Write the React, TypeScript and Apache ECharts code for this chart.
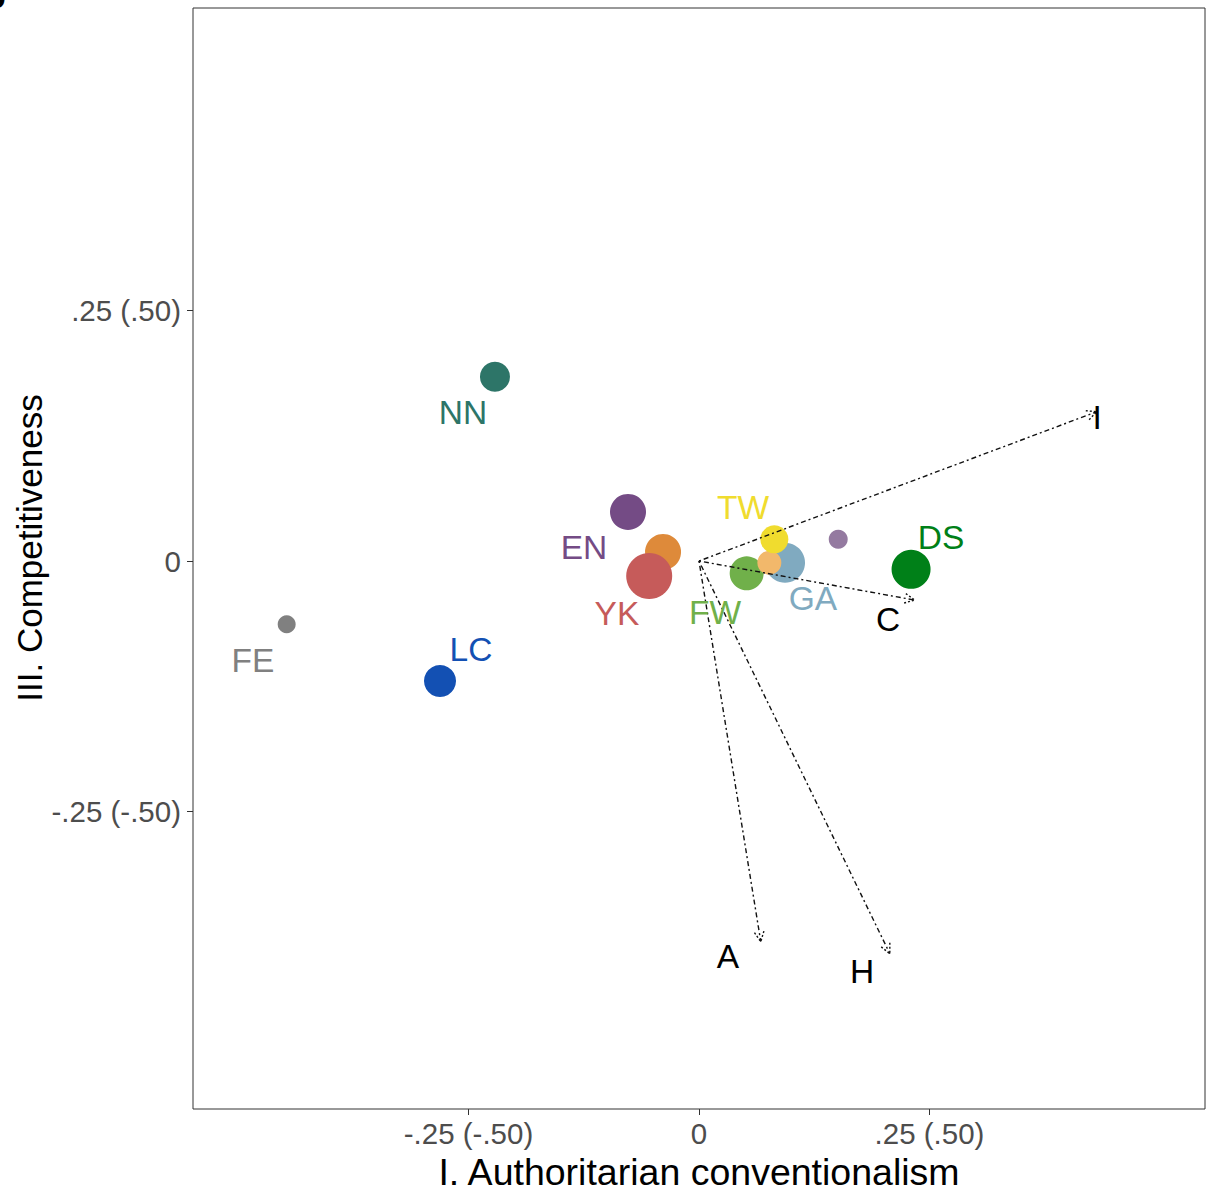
import React, { useEffect, useRef } from "react";
import * as echarts from "echarts";

// ---- data ----
const pointNames = ["NN", "EN", "OR", "YK", "FE", "LC", "GA", "FW", "LO", "TW", "PU", "DS"];
const pointX = [-0.2213, -0.077, -0.039, -0.054, -0.4472, -0.2809, 0.0933, 0.0517, 0.0763, 0.0817, 0.151, 0.23];
const pointY = [0.184, 0.049, 0.009, -0.015, -0.0632, -0.1198, -0.0017, -0.0123, -0.0017, 0.0217, 0.0217, -0.0083];
const pointWeight = [30, 36, 36, 46, 18, 32, 40, 34, 24, 28, 19, 39];
const pointColors = ["#2d7568", "#744b85", "#de8a3a", "#c65b5a", "#808080", "#1350b3", "#80aac0", "#70b04a", "#f2b86b", "#f0dc2e", "#947aa0", "#008018"];

const labelNames = ["NN", "EN", "YK", "FW", "GA", "TW", "DS", "FE", "LC"];
const labelX = [-0.256, -0.1247, -0.089, 0.0174, 0.1236, 0.0477, 0.2625, -0.4837, -0.2473];
const labelY = [0.148, 0.013, -0.052, -0.051, -0.037, 0.053, 0.023, -0.0998, -0.0888];
const labelColors = ["#2d7568", "#744b85", "#c65b5a", "#70b04a", "#80aac0", "#f0dc2e", "#008018", "#808080", "#1350b3"];

const arrowNames = ["I", "C", "A", "H"];
const arrowX = [0.4314, 0.234, 0.067, 0.207];
const arrowY = [0.149, -0.039, -0.38, -0.392];
const arrowLabelX = [0.4317, 0.205, 0.0315, 0.177];
const arrowLabelY = [0.1437, -0.058, -0.395, -0.41];

const xTicks = [-0.25, 0, 0.25];
const xTickLabels = ["-.25 (-.50)", "0", ".25 (.50)"];
const yTicks = [-0.25, 0, 0.25];
const yTickLabels = ["-.25 (-.50)", "0", ".25 (.50)"];

const FONT = "'Liberation Sans', Arial, Helvetica, sans-serif";

function tickFmt(ticks: number[], labels: string[]) {
  return (v: number) => {
    const i = ticks.findIndex((t) => Math.abs(t - v) < 1e-9);
    return i >= 0 ? labels[i] : "";
  };
}

export default function App() {
  const ref = useRef<HTMLDivElement>(null);
  useEffect(() => {
    document.body.style.margin = "0";
    const chart = echarts.init(ref.current!, undefined, { renderer: "svg" });
    const option: any = {
      animation: false,
      backgroundColor: "#ffffff",
      grid: {
        left: 193,
        right: 3,
        top: 8,
        bottom: 87,
        show: true,
        borderColor: "#333333",
        borderWidth: 1,
        backgroundColor: "transparent",
      },
      xAxis: {
        type: "value",
        min: -0.5488,
        max: 0.5488,
        axisLine: { show: false, onZero: false },
        splitLine: { show: false },
        axisTick: { show: true, customValues: xTicks, length: 6, lineStyle: { color: "#333333" } },
        axisLabel: {
          customValues: xTicks,
          formatter: tickFmt(xTicks, xTickLabels),
          color: "#4d4d4d",
          fontSize: 29.5,
          fontFamily: FONT,
          margin: 9,
        },
        name: "I. Authoritarian conventionalism",
        nameLocation: "middle",
        nameGap: 44,
        nameTextStyle: { color: "#000", fontSize: 37.5, fontFamily: FONT },
      },
      yAxis: {
        type: "value",
        min: -0.547,
        max: 0.552,
        axisLine: { show: false, onZero: false },
        splitLine: { show: false },
        axisTick: { show: true, customValues: yTicks, length: 6, lineStyle: { color: "#333333" } },
        axisLabel: {
          customValues: yTicks,
          formatter: tickFmt(yTicks, yTickLabels),
          color: "#4d4d4d",
          fontSize: 29.5,
          fontFamily: FONT,
          margin: 12,
        },
      },
      graphic: [
        {
          type: "text",
          x: 29,
          y: 548,
          rotation: Math.PI / 2,
          style: {
            text: "III. Competitiveness",
            fill: "#000",
            fontSize: 35,
            fontFamily: FONT,
            align: "center",
            verticalAlign: "middle",
          },
        },
        {
          type: "text",
          x: -16,
          y: 13,
          style: {
            text: "b",
            fill: "#000",
            fontSize: 36,
            fontWeight: "bold",
            fontFamily: FONT,
            align: "left",
            verticalAlign: "bottom",
          },
        },
      ],
      series: [
        {
          type: "scatter",
          data: pointNames.map((n, i) => ({
            name: n,
            value: [pointX[i], pointY[i]],
            symbolSize: pointWeight[i],
            itemStyle: { color: pointColors[i], opacity: 1 },
          })),
          z: 2,
        },
        {
          type: "custom",
          data: arrowNames.map((n, i) => [0, 0, arrowX[i], arrowY[i]]),
          encode: { x: [0, 2], y: [1, 3] },
          z: 3,
          silent: true,
          renderItem: (params: any, api: any) => {
            const p0 = api.coord([api.value(0), api.value(1)]);
            const p1 = api.coord([api.value(2), api.value(3)]);
            const ang = Math.atan2(p1[1] - p0[1], p1[0] - p0[0]);
            const L = 11;
            const a = Math.PI / 7;
            const h1 = [p1[0] - L * Math.cos(ang - a), p1[1] - L * Math.sin(ang - a)];
            const h2 = [p1[0] - L * Math.cos(ang + a), p1[1] - L * Math.sin(ang + a)];
            return {
              type: "group",
              children: [
                {
                  type: "line",
                  shape: { x1: p0[0], y1: p0[1], x2: p1[0], y2: p1[1] },
                  style: { stroke: "#111", lineWidth: 1.4, lineDash: [2, 3, 5, 3], fill: null },
                },
                {
                  type: "polyline",
                  shape: { points: [h1, p1, h2] },
                  style: { stroke: "#111", lineWidth: 1.4, lineDash: [2, 2], fill: null },
                },
              ],
            };
          },
        },
        {
          type: "custom",
          data: labelNames.map((n, i) => [labelX[i], labelY[i]]),
          encode: { x: 0, y: 1 },
          z: 4,
          silent: true,
          renderItem: (params: any, api: any) => {
            const p = api.coord([api.value(0), api.value(1)]);
            const i = params.dataIndex;
            return {
              type: "text",
              x: p[0],
              y: p[1],
              style: {
                text: labelNames[i],
                fill: labelColors[i],
                fontSize: 33.5,
                fontFamily: FONT,
                align: "center",
                verticalAlign: "middle",
              },
            };
          },
        },
        {
          type: "custom",
          data: arrowNames.map((n, i) => [arrowLabelX[i], arrowLabelY[i]]),
          encode: { x: 0, y: 1 },
          z: 4,
          silent: true,
          renderItem: (params: any, api: any) => {
            const p = api.coord([api.value(0), api.value(1)]);
            const i = params.dataIndex;
            return {
              type: "text",
              x: p[0],
              y: p[1],
              style: {
                text: arrowNames[i],
                fill: "#000",
                fontSize: 33.5,
                fontFamily: FONT,
                align: "center",
                verticalAlign: "middle",
              },
            };
          },
        },
      ],
    };
    chart.setOption(option);
    return () => chart.dispose();
  }, []);
  return <div ref={ref} style={{ width: 1208, height: 1196 }} />;
}
